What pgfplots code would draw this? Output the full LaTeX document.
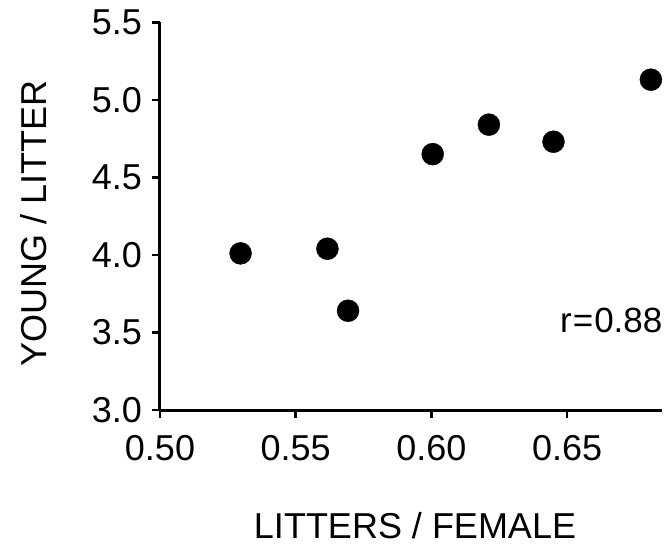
\documentclass[border=0pt]{standalone}
\usepackage{pgfplots}
\pgfplotsset{compat=1.18}
\usepackage{fontspec}
\setmainfont{Liberation Sans}
\newcommand{\bigf}{\fontsize{36}{42}\selectfont}
\begin{document}
\begin{tikzpicture}
\useasboundingbox (-160pt,-144pt) rectangle (508pt,410pt);
\begin{axis}[
  scale only axis,
  width=502pt, height=387.7pt,
  xmin=0.50, xmax=0.685,
  ymin=3.0, ymax=5.5,
  axis lines=left,
  every outer x axis line/.append style={-, line width=3pt},
  every outer y axis line/.append style={-, line width=3pt},
  axis line style={-, line width=3pt},
  tick style={black, line width=2.6pt},
  tick align=outside,
  major tick length=8pt,
  xtick={0.50,0.55,0.60,0.65},
  ytick={3.0,3.5,4.0,4.5,5.0,5.5},
  /pgf/number format/assume math mode=true,
  xticklabel style={/pgf/number format/fixed, /pgf/number format/fixed zerofill, /pgf/number format/precision=2, anchor=north, inner sep=0pt, yshift=-17pt},
  yticklabel style={/pgf/number format/fixed, /pgf/number format/fixed zerofill, /pgf/number format/precision=1, anchor=east, inner sep=0pt, xshift=-10pt},
  tick label style={font=\bigf},
  xlabel={LITTERS / FEMALE},
  ylabel={YOUNG / LITTER},
  label style={font=\bigf},
  xlabel style={at={(axis description cs:0.508,-0.299)}, anchor=center},
  ylabel style={at={(axis description cs:-0.251,0.482)}, anchor=center, rotate=0},
  clip=false,
]
\addplot[only marks, mark=*, mark size=11pt, black] coordinates {
  (0.5297,4.01)
  (0.5617,4.04)
  (0.5693,3.64)
  (0.6005,4.65)
  (0.6212,4.84)
  (0.6450,4.73)
  (0.6809,5.13)
};
\node[anchor=west, font=\fontsize{35}{40}\selectfont, inner sep=0pt] at (axis cs:0.6474,3.576) {r\kern1pt=\kern1pt0.88};
\end{axis}
\end{tikzpicture}
\end{document}
